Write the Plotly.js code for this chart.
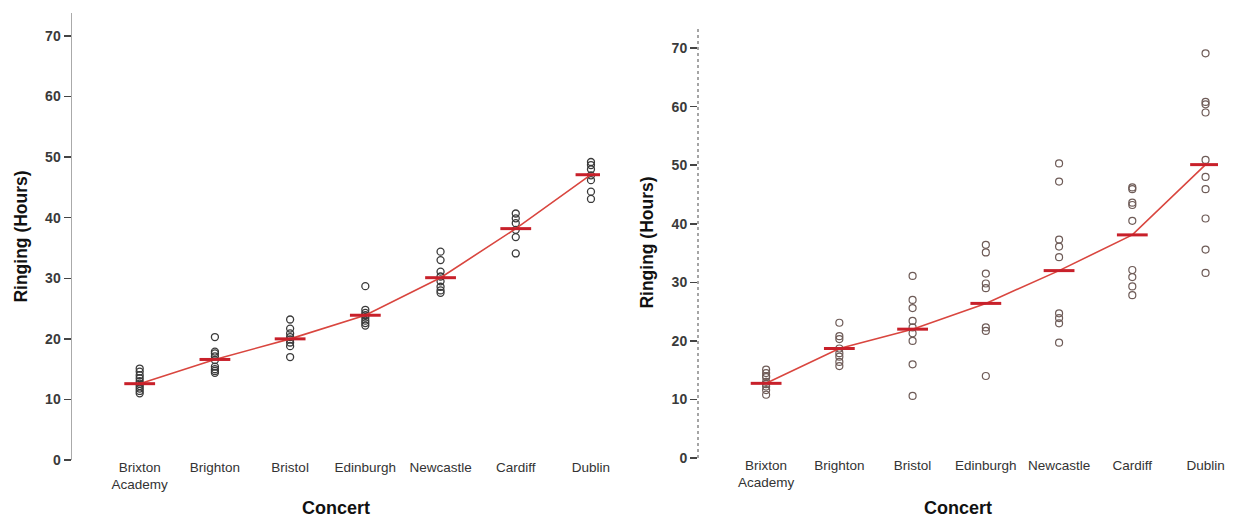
<!DOCTYPE html>
<html>
<head>
<meta charset="utf-8">
<script src="https://cdn.plot.ly/plotly-3.0.1.min.js"></script>
<style>
html,body{margin:0;padding:0;background:#fff;}
#chart{width:1235px;height:518px;}
</style>
</head>
<body>
<div id="chart"></div>
<script>
// Categories and tick labels
const categories = ["Brixton Academy","Brighton","Bristol","Edinburgh","Newcastle","Cardiff","Dublin"];
const tickLabels = ["Brixton<br>Academy","Brighton","Bristol","Edinburgh","Newcastle","Cardiff","Dublin"];

// Left panel: individual observations (hours of ringing)
const leftBrixton   = [15.1, 14.6, 14.0, 13.5, 13.0, 12.6, 12.2, 11.8, 11.4, 11.0];
const leftBrighton  = [20.3, 17.9, 17.6, 17.1, 16.5, 15.4, 15.0, 14.7, 14.4];
const leftBristol   = [23.2, 21.7, 20.9, 20.3, 19.9, 19.4, 18.8, 17.0];
const leftEdinburgh = [28.7, 24.8, 24.3, 23.9, 23.5, 23.0, 22.6, 22.2];
const leftNewcastle = [34.4, 33.0, 31.1, 30.3, 29.5, 28.6, 28.0, 27.6];
const leftCardiff   = [40.7, 39.9, 39.1, 38.0, 36.8, 34.1];
const leftDublin    = [49.2, 48.7, 48.0, 47.0, 46.2, 44.3, 43.1];
const leftMeans     = [12.6, 16.6, 20.0, 23.9, 30.1, 38.2, 47.1];

// Right panel: individual observations
const rightBrixton   = [15.1, 14.5, 14.0, 13.8, 13.0, 12.6, 12.2, 11.6, 10.8];
const rightBrighton  = [23.1, 20.8, 20.3, 18.7, 17.9, 17.3, 16.4, 15.7];
const rightBristol   = [31.1, 27.0, 25.6, 23.4, 22.3, 21.3, 20.0, 16.0, 10.6];
const rightEdinburgh = [36.4, 35.1, 31.5, 29.8, 29.0, 22.3, 21.7, 14.0];
const rightNewcastle = [50.3, 47.2, 37.3, 36.1, 34.3, 24.7, 23.9, 23.0, 19.7];
const rightCardiff   = [46.2, 45.9, 43.6, 43.2, 40.5, 32.1, 30.9, 29.3, 27.8];
const rightDublin    = [69.1, 60.8, 60.4, 59.0, 50.9, 48.0, 45.9, 40.9, 35.6, 31.6];
const rightMeans     = [12.75, 18.7, 22.0, 26.4, 32.0, 38.1, 50.1];

function flatten(groups){
  const xs=[], ys=[];
  groups.forEach((g,i)=>g.forEach(v=>{xs.push(categories[i]); ys.push(v);}));
  return {xs, ys};
}
const L = flatten([leftBrixton,leftBrighton,leftBristol,leftEdinburgh,leftNewcastle,leftCardiff,leftDublin]);
const R = flatten([rightBrixton,rightBrighton,rightBristol,rightEdinburgh,rightNewcastle,rightCardiff,rightDublin]);

const lineRed = '#d9463f';
const meanRed = '#c8202a';
const font = 'Liberation Sans, Arial, sans-serif';

const traces = [
  {x:L.xs, y:L.ys, type:'scatter', mode:'markers', xaxis:'x', yaxis:'y',
   marker:{symbol:'circle-open', size:7, color:'#3a3a3a', line:{width:1.3}}, hoverinfo:'y'},
  {x:categories, y:leftMeans, type:'scatter', mode:'lines', xaxis:'x', yaxis:'y',
   line:{color:lineRed, width:1.6}},
  {x:categories, y:leftMeans, type:'scatter', mode:'markers', xaxis:'x', yaxis:'y',
   marker:{symbol:'line-ew', size:22, line:{color:meanRed, width:3}}},
  {x:R.xs, y:R.ys, type:'scatter', mode:'markers', xaxis:'x2', yaxis:'y2',
   marker:{symbol:'circle-open', size:7, color:'#6e5b57', line:{width:1.2}}, hoverinfo:'y'},
  {x:categories, y:rightMeans, type:'scatter', mode:'lines', xaxis:'x2', yaxis:'y2',
   line:{color:lineRed, width:1.6}},
  {x:categories, y:rightMeans, type:'scatter', mode:'markers', xaxis:'x2', yaxis:'y2',
   marker:{symbol:'line-ew', size:22, line:{color:meanRed, width:3}}}
];

const xCommon = {
  type:'category', categoryorder:'array', categoryarray:categories,
  tickvals:categories, ticktext:tickLabels, showline:false, showgrid:false, zeroline:false,
  ticks:'', ticklabelstandoff:-3, tickfont:{family:font, size:13.5, color:'#333'},
  title:{text:'<b>Concert</b>', font:{family:font, size:18, color:'#111'}}
};
const yCommon = {
  showgrid:false, zeroline:false, showline:true, ticks:'outside', ticklen:7, tickwidth:1.5,
  tickcolor:'#444', tickvals:[0,10,20,30,40,50,60,70],
  tickfont:{family:font, size:14, color:'#3a3a3a', weight:'bold'},
  title:{text:'<b>Ringing (Hours)</b>', font:{family:font, size:17.5, color:'#111'}}
};

const layout = {
  width:1235, height:518, showlegend:false,
  paper_bgcolor:'#fff', plot_bgcolor:'#fff',
  margin:{l:0, r:0, t:0, b:0},
  xaxis: Object.assign({}, xCommon, {domain:[72/1235, 600/1235], range:[-0.9, 6.12], anchor:'y'}),
  yaxis: Object.assign({}, yCommon, {domain:[(518-460)/518, (518-13)/518], range:[0, 73.8],
          anchor:'x', linecolor:'#aaaaaa', linewidth:1.5}),
  xaxis2: Object.assign({}, xCommon, {domain:[698/1235, 1218/1235], range:[-0.93, 6.17], anchor:'y2'}),
  yaxis2: Object.assign({}, yCommon, {domain:[(518-458)/518, (518-27)/518], range:[0, 73.6],
          anchor:'x2', showline:false}),
  shapes:[
    {type:'line', xref:'x2 domain', yref:'y2 domain', x0:0, x1:0, y0:0, y1:1,
     line:{color:'#888', width:1.5, dash:'dot'}}
  ]
};

Plotly.newPlot('chart', traces, layout, {displayModeBar:false, staticPlot:true});
</script>
</body>
</html>
